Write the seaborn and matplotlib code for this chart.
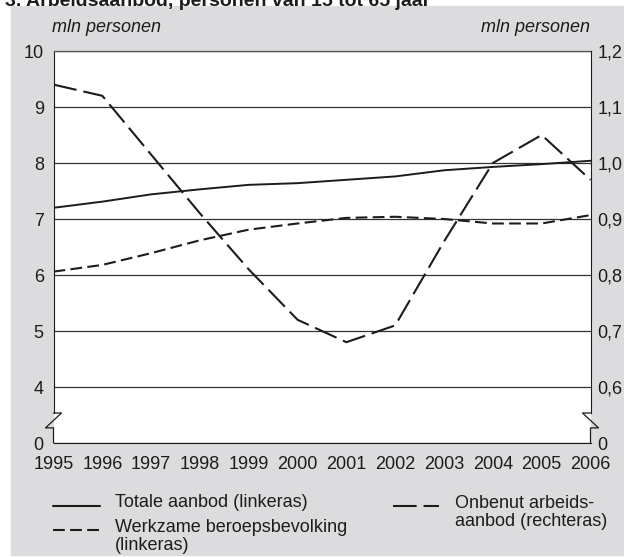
import matplotlib
matplotlib.use("Agg")
import matplotlib.pyplot as plt
import matplotlib.transforms as mtransforms
import seaborn as sns
import pandas as pd
from matplotlib.lines import Line2D
from matplotlib.patches import Rectangle

# data
years = list(range(1995, 2007))
totale = [7.20, 7.31, 7.44, 7.53, 7.61, 7.64, 7.70, 7.76, 7.87, 7.93, 7.98, 8.04]
werkzame = [6.06, 6.18, 6.39, 6.62, 6.81, 6.92, 7.02, 7.04, 7.00, 6.92, 6.92, 7.07]
onbenut = [1.14, 1.12, 1.015, 0.91, 0.81, 0.72, 0.68, 0.71, 0.86, 1.00, 1.05, 0.97]

left_ticks = [3, 4, 5, 6, 7, 8, 9, 10]
left_labels = ["0", "4", "5", "6", "7", "8", "9", "10"]
right_ticks = [0.5, 0.6, 0.7, 0.8, 0.9, 1.0, 1.1, 1.2]
right_labels = ["0", "0,6", "0,7", "0,8", "0,9", "1,0", "1,1", "1,2"]
legend_labels = ["Totale aanbod (linkeras)",
                 "Werkzame beroepsbevolking\n(linkeras)",
                 "Onbenut arbeids-\naanbod (rechteras)"]

sns.set_style("white")
plt.rcParams["font.family"] = ["Liberation Sans", "DejaVu Sans"]
plt.rcParams["lines.scale_dashes"] = False

W, H = 624, 557
INK = "#1c1c1c"
dash_short = (0, (8.5, 3.8))
dash_long = (0, (17.0, 5.0))

fig = plt.figure(figsize=(W / 100, H / 100), dpi=100)
fig.patch.set_facecolor("white")
fig.patches.append(Rectangle((11 / W, 2 / H), 1 - 11 / W, 1 - 8 / H,
                             transform=fig.transFigure, color="#dcdcde", zorder=-10))

ax = fig.add_axes([53.5 / W, 1 - 443 / H, 537 / W, 392 / H])
ax.set_facecolor("white")

df = pd.DataFrame({"jaar": years, "totale": totale,
                   "werkzame": werkzame, "onbenut": onbenut})

sns.lineplot(data=df, x="jaar", y="totale", ax=ax, color=INK, lw=1.4)
sns.lineplot(data=df, x="jaar", y="werkzame", ax=ax, color=INK, lw=1.5,
             linestyle=dash_short)

ax.set_xlim(1995, 2006)
ax.set_ylim(3, 10)
ax.set_xticks(years)
ax.set_yticks(left_ticks)
ax.set_yticklabels(left_labels)
ax.set_xlabel("")
ax.set_ylabel("")
ax.grid(axis="y", color="#333333", lw=0.9)
ax.grid(axis="x", visible=False)
ax.set_axisbelow(True)
ax.tick_params(axis="x", direction="out", length=5, width=0.9, pad=4.5,
               labelsize=13, color=INK, labelcolor=INK)
ax.tick_params(axis="y", length=0, pad=7, labelsize=13, labelcolor=INK)
ax.spines["top"].set_color("#555555")
ax.spines["top"].set_linewidth(0.9)
ax.spines["bottom"].set_color(INK)
ax.spines["right"].set_visible(False)
ax.spines["left"].set_color(INK)
ax.spines["left"].set_bounds(3.536, 10)

ax2 = ax.twinx()
sns.lineplot(data=df, x="jaar", y="onbenut", ax=ax2, color=INK, lw=1.5,
             linestyle=dash_long)
ax2.set_ylim(0.5, 1.2)
ax2.set_yticks(right_ticks)
ax2.set_yticklabels(right_labels)
ax2.set_ylabel("")
ax2.tick_params(axis="y", length=0, pad=5, labelsize=13, labelcolor=INK)
for s in ["top", "bottom", "left"]:
    ax2.spines[s].set_visible(False)
ax2.spines["right"].set_color(INK)
ax2.spines["right"].set_bounds(0.5536, 1.2)

# axis breaks
dx = 8 / 537
tl = mtransforms.blended_transform_factory(ax.transAxes, ax.transData)
ax.add_line(Line2D([0, dx, -dx, 0, 0], [3.536, 3.536, 3.27, 3.27, 3.0],
                   transform=tl, color=INK, lw=0.9, clip_on=False))
tr = mtransforms.blended_transform_factory(ax2.transAxes, ax2.transData)
ax2.add_line(Line2D([1, 1 - dx, 1 + dx, 1, 1], [0.5536, 0.5536, 0.527, 0.527, 0.5],
                    transform=tr, color=INK, lw=0.9, clip_on=False))

# texts
fig.text(5 / W, 1 - 6 / H, "3. Arbeidsaanbod, personen van 15 tot 65 jaar",
         fontsize=14, weight="bold", color=INK, va="baseline")
fig.text(52 / W, 1 - 27 / H, "mln personen", fontsize=13, style="italic",
         color=INK, va="center")
fig.text(590 / W, 1 - 27 / H, "mln personen", fontsize=13, style="italic",
         color=INK, va="center", ha="right")

# legend
styles = ["-", dash_short, dash_long]
handle_x = [(53, 100), (53, 100), (393, 439)]
handle_y = [506, 530, 506]
text_x = [115, 115, 455]
text_top = [494, 519, 495]
for lab, ls, (x0, x1), hy, tx, ty in zip(legend_labels, styles, handle_x,
                                         handle_y, text_x, text_top):
    fig.add_artist(Line2D([x0 / W, x1 / W], [1 - hy / H, 1 - hy / H],
                          transform=fig.transFigure, color=INK, lw=1.5, linestyle=ls))
    fig.text(tx / W, 1 - ty / H, lab, fontsize=13, color=INK,
             va="top", linespacing=1.05)

fig.savefig("out.png", dpi=100)
